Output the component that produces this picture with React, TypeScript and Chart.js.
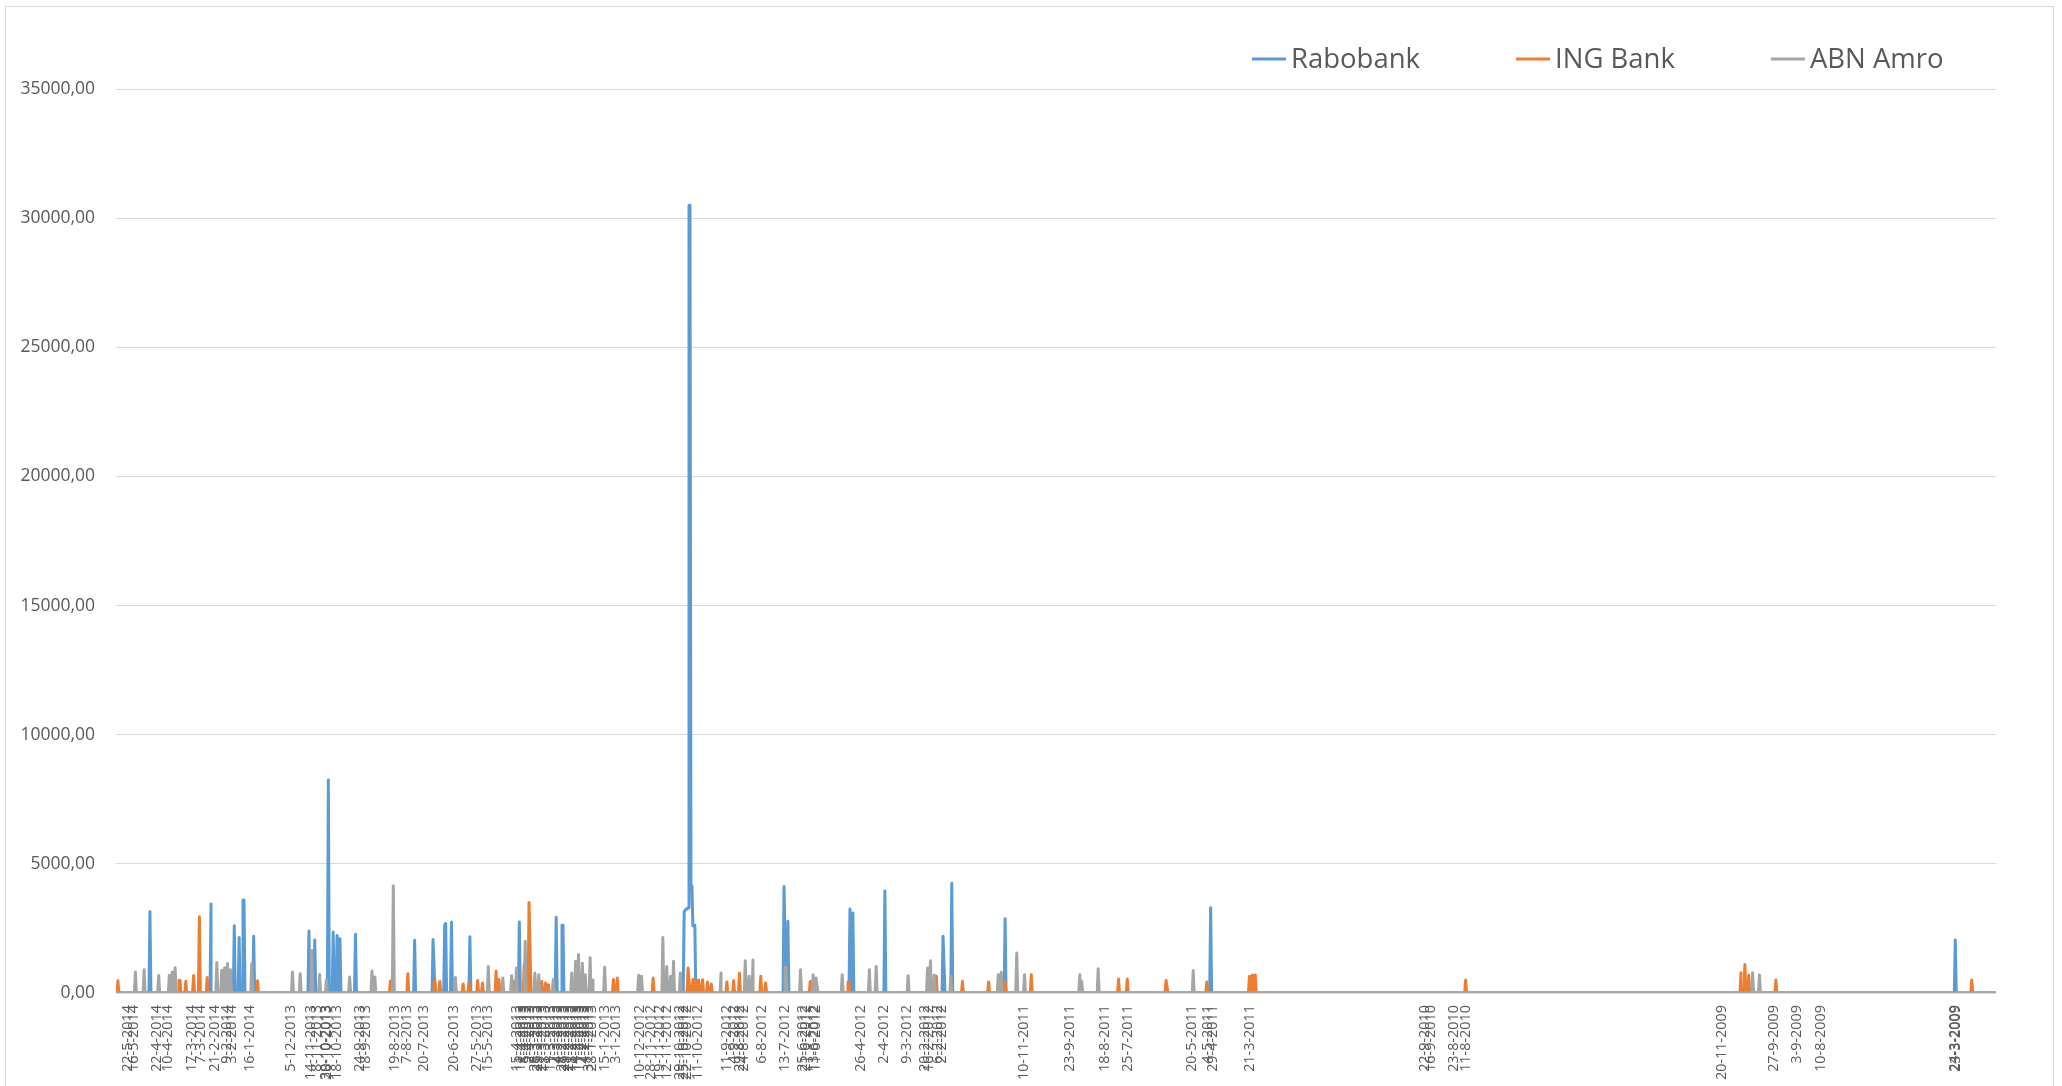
import { useEffect, useRef } from 'react';
import { Chart, registerables } from 'chart.js';

Chart.register(...registerables);

// Series names and colours
const seriesNames = ['Rabobank', 'ING Bank', 'ABN Amro'];
const seriesColors = ['#5B9BD5', '#ED7D31', '#A5A5A5'];

// First and last day of the daily series (newest first, as on the axis)
const dateRange = ['3-6-2014', '10-2-2009'];

// Dates shown under the horizontal axis
const tickLabels = [
  '22-5-2014', '16-5-2014', '22-4-2014', '10-4-2014', '17-3-2014', '7-3-2014', '21-2-2014', '9-2-2014', '3-2-2014', '16-1-2014',
  '5-12-2013', '14-11-2013', '8-11-2013', '30-10-2013', '28-10-2013', '18-10-2013', '24-9-2013', '18-9-2013', '19-8-2013', '7-8-2013',
  '20-7-2013', '20-6-2013', '27-5-2013', '15-5-2013',
  '15-4-2013', '11-4-2013', '8-4-2013', '5-4-2013', '2-4-2013', '28-3-2013', '25-3-2013', '21-3-2013', '18-3-2013',
  '11-3-2013', '7-3-2013', '4-3-2013', '28-2-2013', '25-2-2013', '21-2-2013', '18-2-2013', '14-2-2013', '11-2-2013', '7-2-2013',
  '4-2-2013', '31-1-2013', '28-1-2013',
  '15-1-2013', '3-1-2013', '10-12-2012', '28-11-2012', '19-11-2012', '12-11-2012', '29-10-2012', '25-10-2012', '22-10-2012', '11-10-2012',
  '11-9-2012', '4-9-2012', '29-8-2012', '24-8-2012', '6-8-2012', '13-7-2012', '25-6-2012', '21-6-2012', '13-6-2012', '11-6-2012',
  '26-4-2012', '2-4-2012', '9-3-2012', '20-2-2012', '16-2-2012', '6-2-2012', '2-2-2012',
  '10-11-2011', '23-9-2011', '18-8-2011', '25-7-2011', '20-5-2011', '4-5-2011', '29-4-2011', '21-3-2011',
  '22-9-2010', '16-9-2010', '23-8-2010', '11-8-2010', '20-11-2009', '27-9-2009', '3-9-2009', '10-8-2009', '24-3-2009', '23-3-2009',
];

// Rabobank
const rabobankDates = [
  '29-4-2014', '25-2-2014', '1-2-2014', '27-1-2014', '22-1-2014', '12-1-2014',
  '16-11-2013', '10-11-2013', '27-10-2013', '22-10-2013', '18-10-2013', '15-10-2013', '29-9-2013',
  '30-7-2013', '11-7-2013', '29-6-2013', '28-6-2013', '22-6-2013', '3-6-2013', '13-4-2013', '6-3-2013', '27-2-2013',
  '25-10-2012', '24-10-2012', '23-10-2012', '22-10-2012', '21-10-2012', '20-10-2012', '19-10-2012', '18-10-2012',
  '17-10-2012', '16-10-2012', '15-10-2012', '14-10-2012',
  '14-7-2012', '10-7-2012', '7-5-2012', '4-5-2012', '1-4-2012', '1-2-2012', '23-1-2012',
  '29-11-2011', '1-5-2011', '24-3-2009',
];
const rabobankValues = [
  3150, 3450, 2600, 2150, 3600, 2200,
  2400, 2050, 8250, 2360, 2230, 2100, 2270,
  2040, 2070, 2620, 2690, 2750, 2180, 2750, 2930, 2620,
  3150, 3200, 3250, 3250, 3300, 3300, 30500, 4150,
  4150, 2600, 2600, 2620,
  4120, 2780, 3250, 3100, 3950, 2200, 4250,
  2870, 3300, 2050,
];

// ING Bank
const ingDates = [
  '1-6-2014', '29-3-2014', '23-3-2014', '15-3-2014', '9-3-2014', '1-3-2014', '8-1-2014',
  '24-8-2013', '6-8-2013', '9-7-2013', '4-7-2013', '10-6-2013', '4-6-2013', '26-5-2013', '21-5-2013', '7-5-2013', '4-5-2013',
  '19-4-2013', '8-4-2013', '6-4-2013', '3-4-2013', '21-3-2013', '17-3-2013', '14-3-2013', '13-2-2013', '6-1-2013', '2-1-2013',
  '26-11-2012', '21-10-2012', '16-10-2012', '13-10-2012', '10-10-2012', '6-10-2012', '1-10-2012', '27-9-2012',
  '11-9-2012', '4-9-2012', '29-8-2012', '7-8-2012', '2-8-2012', '17-6-2012', '8-5-2012', '8-2-2012', '12-1-2012',
  '16-12-2011', '29-11-2011', '2-11-2011', '4-8-2011', '26-7-2011', '16-6-2011', '5-5-2011', '22-3-2011', '19-3-2011', '16-3-2011',
  '11-8-2010', '31-10-2009', '27-10-2009', '23-10-2009', '25-9-2009', '7-3-2009',
];
const ingValues = [
  470, 490, 450, 680, 2950, 600, 470,
  465, 750, 450, 450, 350, 390, 480, 390, 840, 520,
  450, 1100, 1300, 3500, 450, 390, 320, 970, 520, 580,
  580, 970, 520, 480, 500, 517, 426, 350,
  430, 480, 760, 650, 390, 450, 430, 650, 450,
  430, 430, 710, 540, 540, 480, 430, 650, 700, 700,
  500, 780, 1100, 700, 500, 500,
];

// ABN Amro
const abnDates = [
  '14-5-2014', '5-5-2014', '20-4-2014', '9-4-2014', '6-4-2014', '3-4-2014', '19-2-2014', '14-2-2014', '11-2-2014', '8-2-2014',
  '5-2-2014', '14-1-2014', '3-12-2013', '25-11-2013', '13-11-2013', '5-11-2013', '29-10-2013', '5-10-2013', '12-9-2013', '9-9-2013',
  '21-8-2013', '18-6-2013', '15-5-2013', '30-4-2013', '21-4-2013', '16-4-2013', '7-4-2013', '28-3-2013', '24-3-2013', '9-3-2013',
  '18-2-2013', '14-2-2013', '11-2-2013', '7-2-2013', '4-2-2013', '30-1-2013', '27-1-2013', '15-1-2013', '11-12-2012', '8-12-2012',
  '16-11-2012', '12-11-2012', '8-11-2012', '5-11-2012', '29-10-2012', '17-9-2012', '23-8-2012', '19-8-2012', '15-8-2012', '12-7-2012',
  '27-6-2012', '14-6-2012', '11-6-2012', '15-5-2012', '17-4-2012', '10-4-2012', '8-3-2012', '17-2-2012', '14-2-2012', '10-2-2012',
  '24-1-2012', '6-12-2011', '3-12-2011', '17-11-2011', '9-11-2011', '13-9-2011', '11-9-2011', '25-8-2011', '19-5-2011',
  '19-10-2009', '12-10-2009',
];
const abnValues = [
  810, 900, 680, 690, 810, 980, 1180, 880, 980, 1140,
  900, 1140, 810, 750, 1650, 720, 500, 620, 850, 620,
  4150, 600, 1030, 580, 670, 970, 2000, 775, 710, 520,
  775, 1230, 1490, 1150, 710, 1360, 500, 1000, 690, 650,
  2150, 1030, 650, 1230, 775, 775, 1250, 650, 1280, 1000,
  900, 710, 580, 710, 900, 1030, 670, 970, 1250, 700,
  650, 710, 800, 1550, 710, 710, 450, 940, 870,
  780, 700,
];

// Value axis
const yMax = 35000;
const yStep = 5000;

const toDay = (s: string) => {
  const [d, m, y] = s.split('-').map(Number);
  return Date.UTC(y, m - 1, d) / 86400000;
};

const firstDay = toDay(dateRange[1]);
const lastDay = toDay(dateRange[0]);
const labelByDay = new Map(tickLabels.map((s) => [toDay(s), s]));

// One point per calendar day; days without an amount are plotted as zero
function dailySeries(dates: string[], values: number[]) {
  const byDay = new Map(dates.map((d, i) => [toDay(d), values[i]]));
  const points: { x: number; y: number }[] = [];
  for (let day = firstDay; day <= lastDay; day++) {
    points.push({ x: day, y: byDay.get(day) ?? 0 });
  }
  return points;
}

const FONT = "'Open Sans', sans-serif";
const TEXT = '#595959';

// Legend as a single row above the plot, right side
const legendRow = {
  id: 'legendRow',
  afterDraw(chart: any) {
    const ctx = chart.ctx;
    ctx.save();
    ctx.font = `27.5px ${FONT}`;
    ctx.textBaseline = 'middle';
    let x = 1252;
    const y = 59;
    chart.data.datasets.forEach((ds: any) => {
      ctx.strokeStyle = ds.borderColor;
      ctx.lineWidth = 3;
      ctx.beginPath();
      ctx.moveTo(x, y);
      ctx.lineTo(x + 34, y);
      ctx.stroke();
      ctx.fillStyle = TEXT;
      ctx.fillText(ds.label, x + 39, y + 1);
      x += 39 + ctx.measureText(ds.label).width + 96;
    });
    ctx.restore();
  },
};

export default function App() {
  const canvasRef = useRef<HTMLCanvasElement>(null);

  useEffect(() => {
    const series = [
      dailySeries(rabobankDates, rabobankValues),
      dailySeries(ingDates, ingValues),
      dailySeries(abnDates, abnValues),
    ];
    const chart = new Chart(canvasRef.current!, {
      type: 'line',
      data: {
        datasets: series.map((data, i) => ({
          label: seriesNames[i],
          data,
          borderColor: seriesColors[i],
          backgroundColor: seriesColors[i],
          borderWidth: 3,
          pointRadius: 0,
          tension: 0,
          fill: false,
          borderJoinStyle: 'round' as const,
          borderCapStyle: 'round' as const,
          order: 3 - i,
        })),
      },
      options: {
        responsive: false,
        animation: false,
        events: [],
        parsing: false,
        normalized: true,
        layout: { padding: { top: 89, right: 66, bottom: 0, left: 0 } },
        plugins: {
          legend: { display: false },
          tooltip: { enabled: false },
        },
        scales: {
          x: {
            type: 'linear',
            reverse: true,
            min: firstDay,
            max: lastDay,
            grid: { display: false, drawTicks: false },
            border: { display: false },
            ticks: {
              autoSkip: false,
              minRotation: 90,
              maxRotation: 90,
              padding: 12,
              color: TEXT,
              font: { family: FONT, size: 14.4 },
              callback: (v: any) => labelByDay.get(Number(v)) ?? '',
            },
            afterBuildTicks: (scale: any) => {
              scale.ticks = tickLabels.map((s) => ({ value: toDay(s) }));
            },
            afterFit: (scale: any) => {
              scale.height = 93;
            },
          },
          y: {
            min: 0,
            max: yMax,
            border: { display: false },
            grid: { color: '#d9d9d9', lineWidth: 1, drawTicks: false },
            ticks: {
              stepSize: yStep,
              padding: 21,
              color: TEXT,
              font: { family: FONT, size: 17.5 },
              callback: (v: any) => Number(v).toFixed(2).replace('.', ','),
            },
            afterFit: (scale: any) => {
              scale.width = 116;
            },
          },
        },
      },
      plugins: [legendRow],
    });
    return () => chart.destroy();
  }, []);

  return (
    <div
      style={{
        position: 'fixed',
        left: 0,
        top: 0,
        width: 2062,
        height: 1086,
        overflow: 'hidden',
        background: '#ffffff',
      }}
    >
      <div
        style={{
          position: 'absolute',
          left: 5,
          top: 6,
          width: 2047,
          height: 1100,
          border: '1px solid #d9d9d9',
        }}
      />
      <canvas
        ref={canvasRef}
        width={2062}
        height={1086}
        style={{ position: 'absolute', left: 0, top: 0 }}
      />
    </div>
  );
}
